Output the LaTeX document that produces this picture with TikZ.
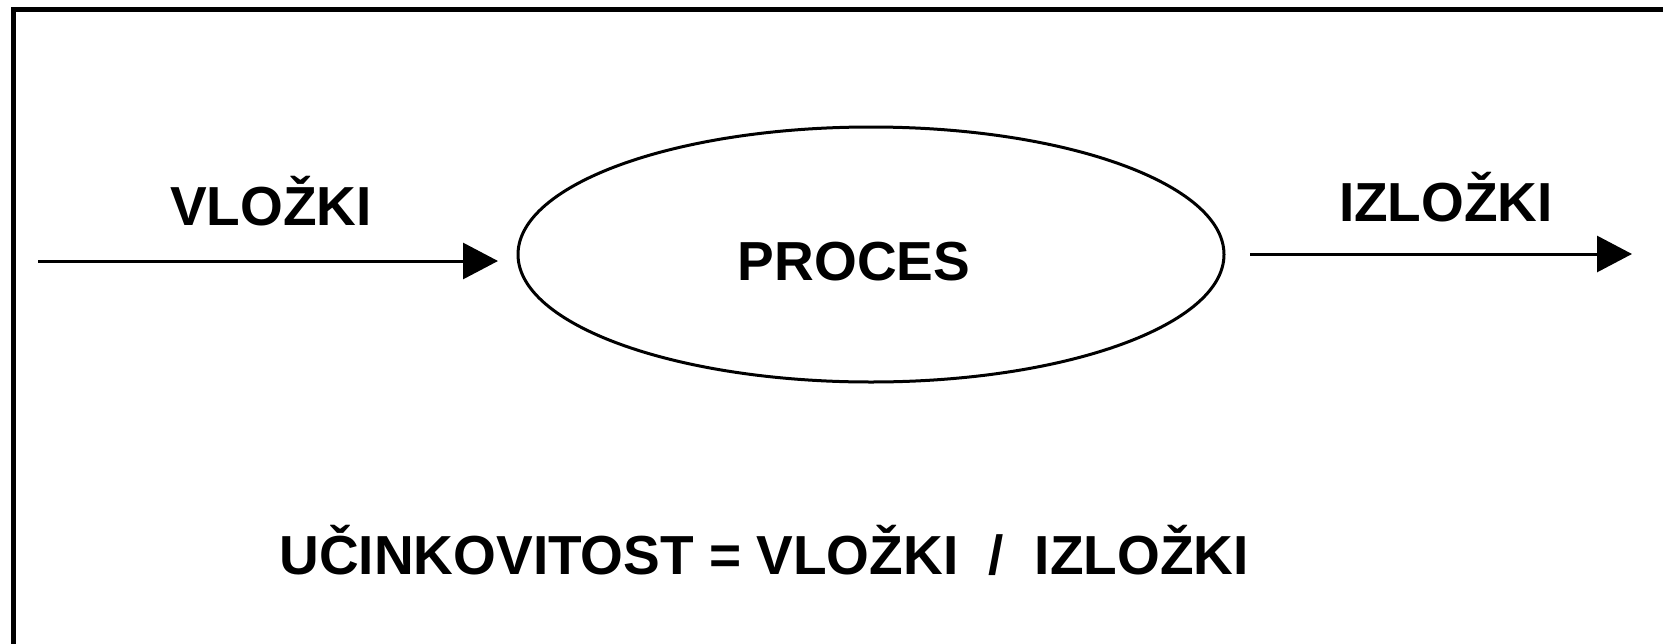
\documentclass[tikz,border=0pt]{standalone}
\usepackage{fontspec}
\setmainfont{Liberation Sans}
\usetikzlibrary{arrows.meta,shapes.geometric}
\tikzset{
  lbl/.style={font=\fontsize{55}{66}\selectfont\bfseries, inner sep=0pt, anchor=base},
  arr/.style={line width=3pt, -{Triangle[length=35pt,width=36pt]}},
  frame/.style={line width=5pt},
  procshape/.style={ellipse, draw, line width=3pt, minimum width=706pt, minimum height=255pt, inner sep=0pt}
}
\begin{document}
\begin{tikzpicture}[x=1pt,y=-1pt]
\useasboundingbox (0,0) rectangle (1663,643);
\clip (0,0) rectangle (1663,643);
\coordinate (fTR) at (1700,9.5);
\coordinate (fTL) at (13.5,9.5);
\coordinate (fBL) at (13.5,700);
\draw[frame] (fTR) -- (fTL) -- (fBL);
\node[procshape] (proc) at (871,254.5) {};
\node[lbl] (proctxt) at (854,280) {PROCES};
\node[lbl] (vl) at (271,225) {VLOŽKI};
\node[lbl] (iz) at (1446,221) {IZLOŽKI};
\node[lbl] (formula) at (764,574) {UČINKOVITOST = VLOŽKI \ / \ IZLOŽKI};
\coordinate (inA) at (38,261);
\coordinate (inB) at (498,261);
\coordinate (outA) at (1250,254);
\coordinate (outB) at (1632,254);
\draw[arr] (inA) -- (inB);
\draw[arr] (outA) -- (outB);
\end{tikzpicture}
\end{document}
